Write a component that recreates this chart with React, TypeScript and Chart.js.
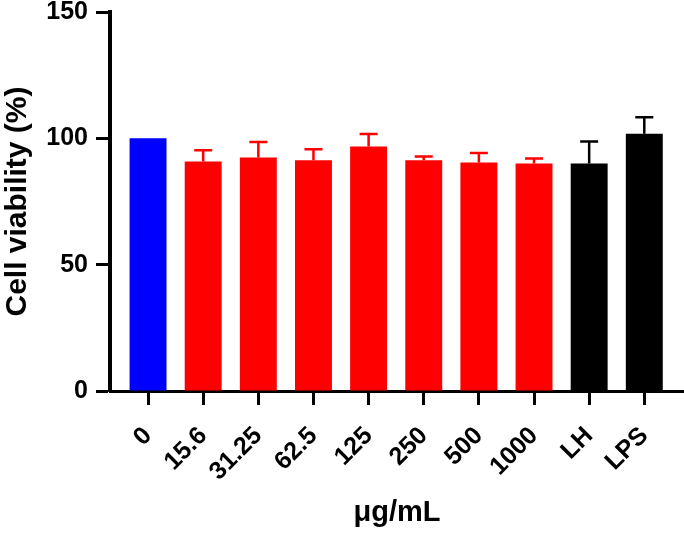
import React, { useEffect, useRef } from "react";
import { Chart, registerables } from "chart.js";

Chart.register(...registerables);

// Concentrations (µg/mL) and control groups
const categories = ["0", "15.6", "31.25", "62.5", "125", "250", "500", "1000", "LH", "LPS"];
// Mean cell viability (%)
const viability = [100, 90.8, 92.4, 91.3, 96.8, 91.3, 90.4, 90.0, 90.0, 101.8];
// Standard deviation (upper error bar only)
const viabilitySd = [0, 4.5, 6.1, 4.4, 4.9, 1.5, 3.8, 2.0, 8.7, 6.5];
const barColors = [
  "#0000FF",
  "#FF0000", "#FF0000", "#FF0000", "#FF0000", "#FF0000", "#FF0000", "#FF0000",
  "#000000", "#000000",
];
const yTicks = [0, 50, 100, 150];

const FONT = "'Liberation Sans', Arial, Helvetica, sans-serif";

// Draws an upward whisker with a cap on each bar, in the bar's colour
const upperErrorBars = {
  id: "upperErrorBars",
  afterDatasetsDraw(chart: any) {
    const meta = chart.getDatasetMeta(0);
    const yScale = chart.scales.y;
    const ctx = chart.ctx;
    ctx.save();
    ctx.lineWidth = 2.5;
    meta.data.forEach((bar: any, i: number) => {
      const sd = viabilitySd[i];
      if (!sd) return;
      const top = yScale.getPixelForValue(viability[i] + sd);
      const base = yScale.getPixelForValue(viability[i]);
      const half = 9;
      ctx.strokeStyle = barColors[i];
      ctx.beginPath();
      ctx.moveTo(bar.x, base);
      ctx.lineTo(bar.x, top);
      ctx.moveTo(bar.x - half, top);
      ctx.lineTo(bar.x + half, top);
      ctx.stroke();
    });
    ctx.restore();
  },
};

export default function App() {
  const canvasRef = useRef<HTMLCanvasElement | null>(null);

  useEffect(() => {
    const canvas = canvasRef.current;
    if (!canvas) return;
    const chart = new Chart(canvas, {
      type: "bar",
      data: {
        datasets: [
          {
            data: viability.map((v, i) => ({ x: i, y: v })),
            backgroundColor: barColors,
            borderWidth: 0,
            categoryPercentage: 1,
            barPercentage: 0.67,
          },
        ],
      },
      options: {
        responsive: false,
        animation: false,
        layout: { padding: { top: 12, left: 0, right: 0, bottom: 0 } },
        plugins: {
          legend: { display: false },
          tooltip: { enabled: false },
        },
        scales: {
          x: {
            type: "linear",
            offset: false,
            min: -0.69,
            max: 9.72,
            afterBuildTicks: (scale: any) => {
              scale.ticks = categories.map((_, i) => ({ value: i }));
            },
            afterFit: (scale: any) => {
              scale.height = 144;
              scale.paddingLeft = 0;
              scale.paddingRight = 0;
            },
            border: { display: true, color: "#000", width: 3 },
            grid: {
              offset: false,
              drawOnChartArea: false,
              drawTicks: true,
              tickLength: 14,
              tickWidth: 3,
              tickColor: "#000",
            },
            ticks: {
              autoSkip: false,
              minRotation: 45,
              maxRotation: 45,
              padding: 18,
              color: "#000",
              font: { family: FONT, size: 25, weight: "bold", lineHeight: 1 },
              callback: (v: any) => categories[Math.round(Number(v))] ?? "",
            },
            title: {
              display: true,
              text: "μg/mL",
              color: "#000",
              font: { family: FONT, size: 29, weight: "bold", lineHeight: 1.2 },
              padding: { top: 0, bottom: 5 },
            },
          },
          y: {
            min: 0,
            max: 150,
            afterBuildTicks: (scale: any) => {
              scale.ticks = yTicks.map((v) => ({ value: v }));
            },
            afterFit: (scale: any) => {
              scale.width = 110;
              scale.paddingTop = 0;
              scale.paddingBottom = 0;
            },
            border: { display: true, color: "#000", width: 4 },
            grid: {
              drawOnChartArea: false,
              drawTicks: true,
              tickLength: 14,
              tickWidth: 3,
              tickColor: "#000",
            },
            ticks: {
              padding: 8,
              color: "#000",
              font: { family: FONT, size: 25, weight: "bold", lineHeight: 1 },
            },
            title: {
              display: true,
              text: "Cell viability (%)",
              color: "#000",
              font: { family: FONT, size: 30, weight: "bold", lineHeight: 1.2 },
              padding: { top: 0, bottom: 0 },
            },
          },
        },
      },
      plugins: [upperErrorBars],
    });
    return () => chart.destroy();
  }, []);

  return (
    <div style={{ position: "fixed", left: 0, top: 0, width: 684, height: 535, background: "#fff" }}>
      <canvas ref={canvasRef} width={684} height={535} />
    </div>
  );
}
